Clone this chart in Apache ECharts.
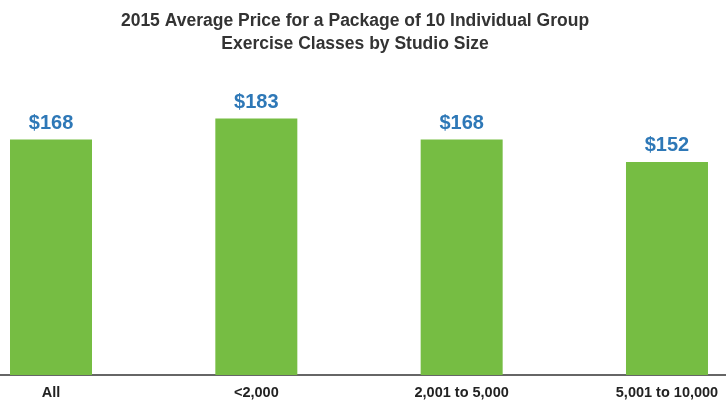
<!DOCTYPE html>
<html>
<head>
<meta charset="utf-8">
<script src="https://cdn.jsdelivr.net/npm/echarts@6/dist/echarts.min.js"></script>
<style>html,body{margin:0;padding:0;background:#fff;}#c{width:726px;height:405px;}</style>
</head>
<body>
<div id="c"></div>
<script>
const titleLines = ["2015 Average Price for a Package of 10 Individual Group", "Exercise Classes by Studio Size"];
const categories = ["All", "<2,000", "2,001 to 5,000", "5,001 to 10,000"];
const prices = [168, 183, 168, 152];

const barData = prices.map((v, i) => [i, v]);
const chart = echarts.init(document.getElementById('c'), null, {renderer: 'canvas'});
chart.setOption({
  animation: false,
  title: {
    text: titleLines.join('\n'),
    left: 350, top: 5, textAlign: 'center',
    textStyle: {fontFamily: '"Liberation Sans", Arial, sans-serif', fontWeight: 'bold', fontSize: 17.5, color: '#333333', lineHeight: 23}
  },
  grid: {left: 0, right: 0, top: 94.6, bottom: 30, containLabel: false},
  xAxis: {
    type: 'value', min: -0.2484, max: 3.2874,
    splitLine: {show: false},
    axisLine: {show: true, lineStyle: {color: '#333333', width: 1.5}},
    axisTick: {show: false},
    axisLabel: {
      customValues: categories.map((c, i) => i),
      formatter: v => categories[Math.round(v)],
      fontFamily: '"Liberation Sans", Arial, sans-serif', fontWeight: 'bold', fontSize: 14.5, color: '#222222', margin: 10
    }
  },
  yAxis: {type: 'value', min: 0, max: 200, show: false, splitLine: {show: false}},
  series: [{
    type: 'bar', data: barData, barWidth: 82,
    itemStyle: {color: '#76bd43'},
    label: {show: true, position: 'top', distance: 6, formatter: p => '$' + p.value[1],
      fontFamily: '"Liberation Sans", Arial, sans-serif', fontWeight: 'bold', fontSize: 20, color: '#2e78b7'}
  }]
});
</script>
</body>
</html>
